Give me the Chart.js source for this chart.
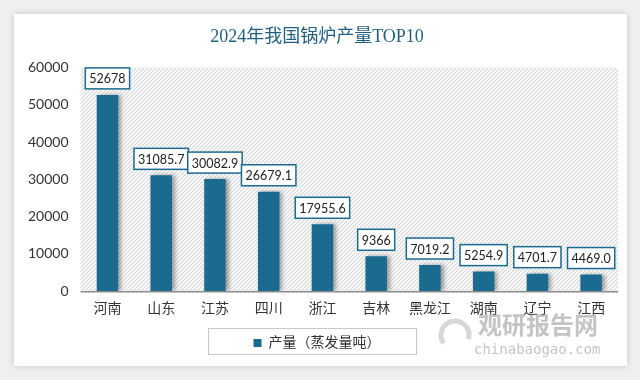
<!DOCTYPE html>
<html><head><meta charset="utf-8">
<script src="https://cdn.jsdelivr.net/npm/chart.js@4/dist/chart.umd.min.js"></script>
<style>html,body{margin:0;padding:0;background:#efefef;}#wrap{width:640px;height:380px;}</style>
</head><body><div id="wrap"><canvas id="c" width="640" height="380"></canvas></div>
<script>
const categories = ['河南','山东','江苏','四川','浙江','吉林','黑龙江','湖南','辽宁','江西'];
const production = [52678, 31085.7, 30082.9, 26679.1, 17955.6, 9366, 7019.2, 5254.9, 4701.7, 4469.0];
const valueLabels = ['52678','31085.7','30082.9','26679.1','17955.6','9366','7019.2','5254.9','4701.7','4469.0'];
const seriesName = '产量（蒸发量吨）';
const titleText = '2024年我国锅炉产量TOP10';

const TEAL = '#1b6a8f';
const CJK_SERIF = '"Liberation Serif","DejaVu Serif","Noto Sans CJK SC",serif';
const LATIN = 'Lato,"Open Sans",sans-serif';

function hatchPattern(ctx){
  const p = document.createElement('canvas'); p.width = 4; p.height = 4;
  const g = p.getContext('2d');
  g.fillStyle = '#f7f7f7'; g.fillRect(0,0,4,4);
  g.strokeStyle = '#d2d2d2'; g.lineWidth = 1;
  g.beginPath(); g.moveTo(0,4); g.lineTo(4,0); g.moveTo(-1,1); g.lineTo(1,-1); g.moveTo(3,5); g.lineTo(5,3); g.stroke();
  return ctx.createPattern(p,'repeat');
}

const bgPlugin = {
  id:'bg',
  beforeDraw(chart){
    const ctx = chart.ctx, a = chart.chartArea;
    ctx.save();
    ctx.fillStyle = '#efefef'; ctx.fillRect(0,0,chart.width,chart.height);
    ctx.shadowColor = 'rgba(0,0,0,0.18)'; ctx.shadowBlur = 6;
    ctx.fillStyle = '#ffffff'; ctx.fillRect(14,14,613,352);
    ctx.shadowBlur = 0; ctx.shadowColor = 'transparent';
    ctx.fillStyle = hatchPattern(ctx);
    ctx.fillRect(a.left, a.top, a.right - a.left, a.bottom - a.top);
    ctx.restore();
  },
  beforeDatasetsDraw(chart){
    const ctx = chart.ctx;
    ctx.save();
    ctx.shadowColor = 'rgba(0,0,0,0.35)'; ctx.shadowBlur = 4; ctx.shadowOffsetX = 3; ctx.shadowOffsetY = 0;
  },
  afterDatasetsDraw(chart){
    const ctx = chart.ctx;
    ctx.restore();
    const meta = chart.getDatasetMeta(0);
    ctx.save();
    ctx.font = '12.5px ' + LATIN;
    ctx.textAlign = 'center'; ctx.textBaseline = 'middle';
    meta.data.forEach((bar,i)=>{
      const t = valueLabels[i];
      const w = ctx.measureText(t).width + 8;
      const h = 21;
      const cx = bar.x, bottom = bar.y - 6;
      ctx.fillStyle = '#ffffff';
      ctx.fillRect(cx - w/2, bottom - h, w, h);
      ctx.strokeStyle = TEAL; ctx.lineWidth = 1.5;
      ctx.strokeRect(cx - w/2, bottom - h, w, h);
      ctx.fillStyle = '#222';
      ctx.fillText(t, cx, bottom - h/2 + 1);
    });
    const a = chart.chartArea;
    ctx.strokeStyle = '#8c8c8c'; ctx.lineWidth = 1.5;
    ctx.beginPath(); ctx.moveTo(a.left, a.bottom+0.5); ctx.lineTo(a.right, a.bottom+0.5); ctx.stroke();
    ctx.restore();
  },
  afterDraw(chart){
    const ctx = chart.ctx;
    ctx.save();
    ctx.strokeStyle = '#c8c8c8'; ctx.lineWidth = 1;
    ctx.strokeRect(208.5, 328.5, 208, 26);
    ctx.globalAlpha = 0.5;
    ctx.fillStyle = '#8a8a8a';
    ctx.font = 'bold 24px "Noto Sans CJK SC"';
    ctx.textBaseline = 'middle'; ctx.textAlign = 'left';
    ctx.fillText('观研报告网', 478, 325);
    ctx.font = '14px "DejaVu Sans Mono",monospace';
    ctx.fillText('chinabaogao.com', 474, 350);
    ctx.strokeStyle = '#b0b0b0'; ctx.lineWidth = 5;
    ctx.beginPath(); ctx.arc(455, 335, 14, Math.PI*0.8, Math.PI*2.1); ctx.stroke();
    ctx.restore();
  }
};

new Chart(document.getElementById('c'), {
  type:'bar',
  data:{ labels: categories, datasets:[{ label: seriesName, data: production, backgroundColor: TEAL, barPercentage:0.4, categoryPercentage:1.0 }]},
  options:{
    responsive:false, animation:false,
    layout:{ padding:{ left:16, right:22, top:0, bottom:20 } },
    plugins:{
      title:{ display:true, text:titleText, color:'#1f5f80', font:{ family:CJK_SERIF, size:18, weight:'normal' }, padding:{ top:26, bottom:20 } },
      legend:{ position:'bottom', labels:{ boxWidth:8, boxHeight:8, color:'#333', font:{ family:CJK_SERIF, size:14 }, padding:8 } },
      tooltip:{ enabled:false }
    },
    scales:{
      x:{ grid:{ display:false, drawTicks:false }, border:{ display:false }, ticks:{ color:'#333', font:{ family:CJK_SERIF, size:14 }, padding:10, maxRotation:0, autoSkip:false } },
      y:{ min:0, max:60000, grid:{ display:false, drawTicks:false }, border:{ display:false }, ticks:{ stepSize:10000, color:'#333', font:{ family:LATIN, size:14 }, padding:12, callback:(v)=>String(v) } }
    }
  },
  plugins:[bgPlugin]
});
</script></body></html>
